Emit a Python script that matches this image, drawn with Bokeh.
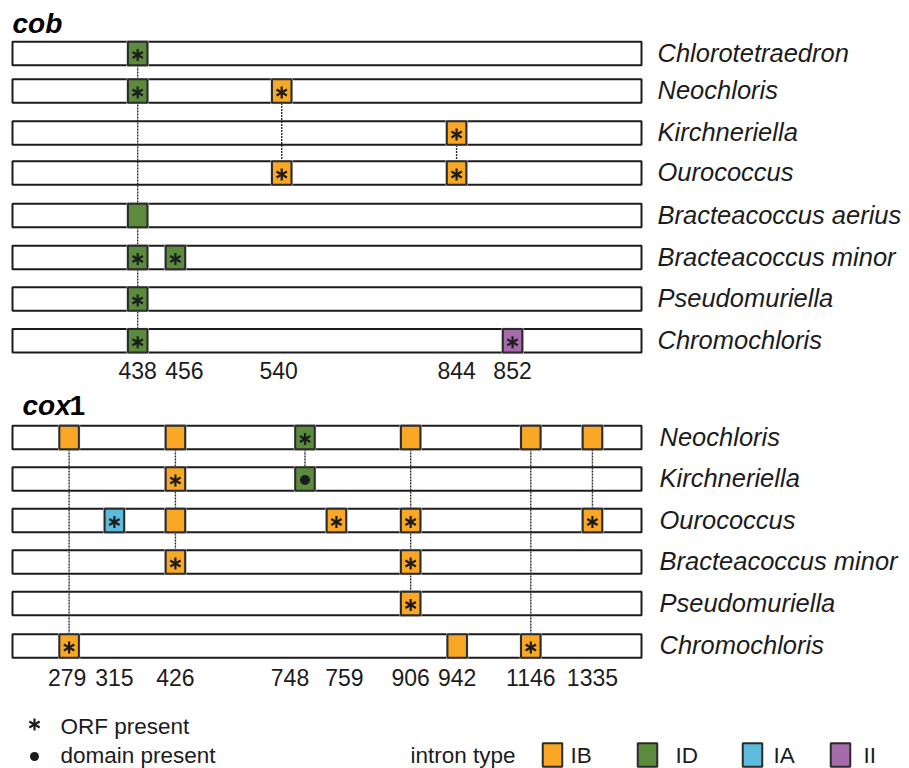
from bokeh.plotting import figure
from bokeh.models import Range1d, ColumnDataSource
from bokeh.core.properties import value
from bokeh.embed import file_html
from bokeh.resources import INLINE
import math

# ------------------------------------------------------------------ data
# cob gene
cob_species = ["Chlorotetraedron", "Neochloris", "Kirchneriella", "Ourococcus",
               "Bracteacoccus aerius", "Bracteacoccus minor", "Pseudomuriella", "Chromochloris"]
cob_sites = [438, 456, 540, 844, 852]
# schematic site position along the gene bar (% of bar length)
cob_site_pos = [19.9, 25.9, 42.8, 70.6, 79.5]
cob_intron_species = ["Chlorotetraedron", "Neochloris", "Neochloris", "Kirchneriella",
                      "Ourococcus", "Ourococcus", "Bracteacoccus aerius", "Bracteacoccus minor",
                      "Bracteacoccus minor", "Pseudomuriella", "Chromochloris", "Chromochloris"]
cob_intron_site = [438, 438, 540, 844, 540, 844, 438, 438, 456, 438, 438, 852]
cob_intron_type = ["ID", "ID", "IB", "IB", "IB", "IB", "ID", "ID", "ID", "ID", "ID", "II"]
cob_intron_feature = ["orf", "orf", "orf", "orf", "orf", "orf", "", "orf", "orf", "orf", "orf", "orf"]

# cox1 gene
cox_species = ["Neochloris", "Kirchneriella", "Ourococcus", "Bracteacoccus minor",
               "Pseudomuriella", "Chromochloris"]
cox_sites = [279, 315, 426, 748, 759, 906, 942, 1146, 1335]
cox_site_pos = [9.0, 16.2, 25.9, 46.5, 51.5, 63.3, 70.7, 82.4, 92.2]
cox_intron_species = ["Neochloris"] * 6 + ["Kirchneriella"] * 2 + ["Ourococcus"] * 5 + \
                     ["Bracteacoccus minor"] * 2 + ["Pseudomuriella"] + ["Chromochloris"] * 3
cox_intron_site = [279, 426, 748, 906, 1146, 1335,
                   426, 748,
                   315, 426, 759, 906, 1335,
                   426, 906,
                   906,
                   279, 942, 1146]
cox_intron_type = ["IB", "IB", "ID", "IB", "IB", "IB",
                   "IB", "ID",
                   "IA", "IB", "IB", "IB", "IB",
                   "IB", "IB",
                   "IB",
                   "IB", "IB", "IB"]
cox_intron_feature = ["", "", "orf", "", "", "",
                      "orf", "domain",
                      "orf", "", "orf", "orf", "orf",
                      "orf", "orf",
                      "orf",
                      "orf", "", "orf"]

intron_types = ["IB", "ID", "IA", "II"]

# ------------------------------------------------------------------ styles / layout
TYPE_COLORS = {"IB": "#F8A825", "ID": "#5B8B3D", "IA": "#5DBCDC", "II": "#A56BAA"}
INK = "#1c1c1c"
FONT = value("Liberation Sans")

PX0, PX_PER_UNIT = 12.0, 6.29          # pixel of bar start, pixels per % of bar length
def px2x(px):
    return (px - PX0) / PX_PER_UNIT

W, H = 909, 768
COB_ROW_Y = [53, 90.5, 132.5, 172.5, 215, 257, 298.5, 340.3]
COX_ROW_Y = [437, 478.5, 520, 561.5, 603, 645.5]
BAR_H = 23.5
BOX_W = 19.5 / PX_PER_UNIT
COB_LABEL_Y, COX_LABEL_Y = 370, 677
COB_LABEL_NUDGE = {456: 9, 540: -3}
COX_LABEL_NUDGE = {279: -2, 748: -15, 759: 8}

p = figure(width=W, height=H,
           x_range=Range1d(px2x(0), px2x(W)), y_range=Range1d(H, 0),
           output_backend="svg", toolbar_location=None, min_border=0,
           x_axis_location=None, y_axis_location=None)
p.grid.visible = False
p.outline_line_color = None
p.background_fill_color = "white"


def draw_star(xs, ys, size=12, lw=2.2):
    for ang in (90, 30, -30):
        p.scatter(x=xs, y=ys, marker="dash", size=size, angle=math.radians(ang),
                  line_color=INK, line_width=lw, fill_color=None)


def draw_gene(species, sites, site_pos, i_sp, i_site, i_type, i_feat,
              row_y, label_y, nudge, name_px):
    ymap = dict(zip(species, row_y))
    xmap = dict(zip(sites, site_pos))
    # gene bars
    p.quad(left=[0] * len(species), right=[100] * len(species),
           top=[y - BAR_H / 2 for y in row_y], bottom=[y + BAR_H / 2 for y in row_y],
           fill_color="white", line_color=INK, line_width=2)
    # connecting dotted lines for shared sites
    x0s, y0s, x1s, y1s = [], [], [], []
    for s in sites:
        ys = [ymap[sp] for sp, st in zip(i_sp, i_site) if st == s]
        if len(ys) > 1:
            x0s.append(xmap[s]); x1s.append(xmap[s])
            y0s.append(min(ys)); y1s.append(max(ys))
    p.segment(x0=x0s, y0=y0s, x1=x1s, y1=y1s, line_color="#2a2a2a",
              line_width=1.4, line_dash="2 1")
    # intron boxes
    src = ColumnDataSource(dict(
        x=[xmap[s] for s in i_site],
        y=[ymap[sp] for sp in i_sp],
        color=[TYPE_COLORS[t] for t in i_type]))
    p.rect(x="x", y="y", width=BOX_W + 0.25, height=BAR_H + 1.5, source=src,
           fill_color=None, line_color="#c8c8c8", line_width=1.2)
    p.rect(x="x", y="y", width=BOX_W, height=BAR_H, source=src,
           fill_color="color", line_color="#2b2b2b", line_width=2)
    # ORF stars and domain dots
    sx = [xmap[s] for s, f in zip(i_site, i_feat) if f == "orf"]
    sy = [ymap[sp] + 1.5 for sp, f in zip(i_sp, i_feat) if f == "orf"]
    draw_star(sx, sy)
    dx = [xmap[s] for s, f in zip(i_site, i_feat) if f == "domain"]
    dy = [ymap[sp] + 1 for sp, f in zip(i_sp, i_feat) if f == "domain"]
    p.scatter(x=dx, y=dy, marker="circle", size=10, fill_color=INK, line_color=None)
    # species names
    p.text(x=[px2x(name_px)] * len(species), y=[y - 1 for y in row_y], text=species,
           text_font=FONT, text_font_style="italic", text_font_size="25.5px",
           text_baseline="middle", text_align="left", text_color=INK)
    # site labels
    p.text(x=[xmap[s] + nudge.get(s, 0) / PX_PER_UNIT for s in sites],
           y=[label_y] * len(sites), text=[str(s) for s in sites],
           text_font=FONT, text_font_size="23px", text_baseline="middle",
           text_align="center", text_color=INK)


draw_gene(cob_species, cob_sites, cob_site_pos, cob_intron_species, cob_intron_site,
          cob_intron_type, cob_intron_feature, COB_ROW_Y, COB_LABEL_Y, COB_LABEL_NUDGE, 657)
draw_gene(cox_species, cox_sites, cox_site_pos, cox_intron_species, cox_intron_site,
          cox_intron_type, cox_intron_feature, COX_ROW_Y, COX_LABEL_Y, COX_LABEL_NUDGE, 659)

# gene titles
p.text(x=[px2x(12)], y=[23], text=["cob"], text_font=FONT, text_font_style="bold italic",
       text_font_size="28px", text_baseline="alphabetic", text_color="black")
p.text(x=[px2x(22)], y=[404.5], text=["cox"], text_font=FONT, text_font_style="bold italic",
       text_font_size="28px", text_baseline="alphabetic", text_color="black")
p.text(x=[px2x(69)], y=[404.5], text=["1"], text_font=FONT, text_font_style="bold",
       text_font_size="28px", text_baseline="alphabetic", text_color="black")

# legend: features
draw_star([px2x(34)], [724], size=12, lw=2.2)
p.scatter(x=[px2x(34)], y=[756], marker="circle", size=9, fill_color=INK, line_color=None)
p.text(x=[px2x(60), px2x(60)], y=[726, 755], text=["ORF present", "domain present"],
       text_font=FONT, text_font_size="22.5px", text_baseline="middle", text_color=INK)

# legend: intron types
LEG_BOX_PX = [552, 647, 752, 840]
LEG_TXT_PX = [570, 675, 773, 863]
LEG_Y = 754.5
p.text(x=[px2x(410)], y=[LEG_Y], text=["intron type"], text_font=FONT,
       text_font_size="22.5px", text_baseline="middle", text_color=INK)
p.rect(x=[px2x(v) for v in LEG_BOX_PX], y=[LEG_Y] * 4, width=BOX_W, height=BAR_H,
       fill_color=[TYPE_COLORS[t] for t in intron_types], line_color="#2b2b2b", line_width=2)
p.text(x=[px2x(v) for v in LEG_TXT_PX], y=[LEG_Y] * 4, text=intron_types, text_font=FONT,
       text_font_size="22.5px", text_baseline="middle", text_color=INK)

open("out.html", "w").write(file_html(p, INLINE))
